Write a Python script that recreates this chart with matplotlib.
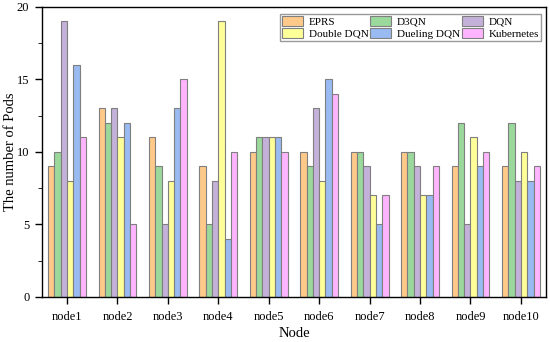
import numpy as np
import matplotlib.pyplot as plt
from matplotlib.ticker import MultipleLocator

plt.rcParams['font.family'] = ['Liberation Serif', 'DejaVu Serif']

nodes = ['node1', 'node2', 'node3', 'node4', 'node5',
         'node6', 'node7', 'node8', 'node9', 'node10']
eprs = [9, 13, 11, 9, 10, 10, 10, 10, 9, 9]
d3qn = [10, 12, 9, 5, 11, 9, 10, 10, 12, 12]
dqn = [19, 13, 5, 8, 11, 13, 9, 9, 5, 8]
double_dqn = [8, 11, 8, 19, 11, 8, 7, 7, 11, 10]
dueling_dqn = [16, 12, 13, 4, 11, 15, 5, 7, 9, 8]
kubernetes = [11, 5, 15, 10, 10, 14, 7, 9, 10, 9]

series = [('EPRS', eprs, '#FFC98A'),
          ('D3QN', d3qn, '#9BD89C'),
          ('DQN', dqn, '#C4B1D9'),
          ('Double DQN', double_dqn, '#FFFF99'),
          ('Dueling DQN', dueling_dqn, '#99BBF2'),
          ('Kubernetes', kubernetes, '#FFB4FF')]

fig, ax = plt.subplots(figsize=(5.5, 3.42), dpi=100)
fig.subplots_adjust(left=0.076, right=0.993, top=0.98, bottom=0.132)

x = np.arange(len(nodes))
w = 0.125
bars = {}
for i, (name, vals, col) in enumerate(series):
    bars[name] = ax.bar(x + (i - 2.5) * w, vals, w, color=col,
                        edgecolor='#7f7f7f', linewidth=0.8, label=name)

ax.set_xlim(-0.5, 9.5)
ax.set_ylim(0, 20)
ax.set_xticks(x)
ax.set_xticklabels(nodes)
ax.yaxis.set_major_locator(MultipleLocator(5))
ax.yaxis.set_minor_locator(MultipleLocator(2.5))
ax.tick_params(axis='both', labelsize=9, direction='out', width=1)
ax.tick_params(axis='x', length=5, pad=5)
ax.tick_params(axis='y', which='major', length=5, pad=4)
ax.tick_params(axis='y', which='minor', length=3)
for s in ax.spines.values():
    s.set_linewidth(1)

ax.set_xlabel('Node', fontsize=10.5, labelpad=3)
ax.set_ylabel('The number of Pods', fontsize=10.5)
ax.yaxis.set_label_coords(-0.05, 0.5)

# legend fills by row in the reference
order = ['EPRS', 'Double DQN', 'D3QN', 'Dueling DQN', 'DQN', 'Kubernetes']
leg = ax.legend([bars[n] for n in order], order, ncol=3, loc='upper right',
                bbox_to_anchor=(0.99, 0.975), fontsize=8, frameon=True,
                fancybox=False, borderaxespad=0, handlelength=1.9,
                handleheight=0.9, columnspacing=0.15, labelspacing=0.15,
                borderpad=0.2, handletextpad=0.5)
leg.get_frame().set_edgecolor('#808080')
leg.get_frame().set_linewidth(1)

fig.savefig('out.png')
